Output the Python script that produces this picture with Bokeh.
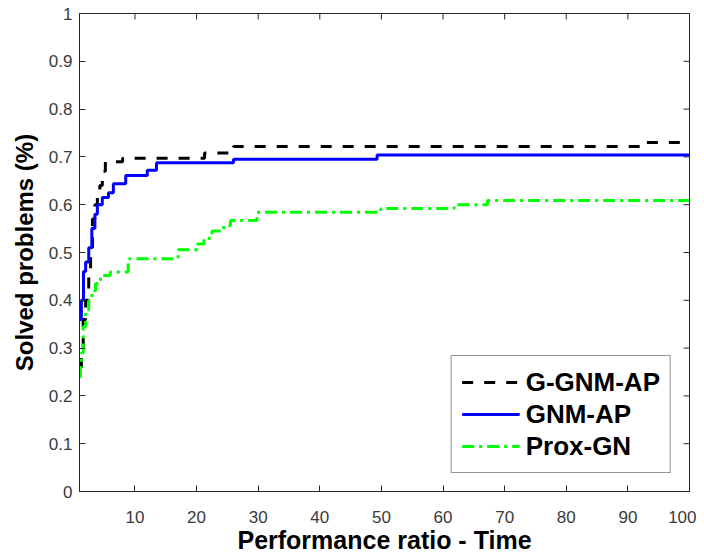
import math
from bokeh.plotting import figure
from bokeh.models import Range1d, FixedTicker, Legend, LegendItem
from bokeh.embed import file_html
from bokeh.resources import INLINE

# G-GNM-AP (black dashed)
ggnm_tau = [1, 1.3, 1.6, 2.0, 2.5, 2.8, 3.1, 3.5, 3.9, 4.3, 4.7, 5.2, 8.0, 21.3, 26.0, 92.3, 100]
ggnm_val = [0.26, 0.30, 0.36, 0.40, 0.45, 0.49, 0.57, 0.60, 0.62, 0.64, 0.67, 0.69, 0.697, 0.708, 0.722, 0.73, 0.73]

# GNM-AP (blue solid)
gnm_tau = [1, 1.3, 1.65, 2.0, 2.5, 3.0, 3.5, 3.9, 4.7, 5.7, 6.5, 8.5, 12.0, 13.5, 26.0, 49.3, 100]
gnm_val = [0.36, 0.40, 0.46, 0.48, 0.51, 0.55, 0.58, 0.60, 0.615, 0.625, 0.644, 0.661, 0.672, 0.688, 0.695, 0.704, 0.704]

# Prox-GN (green dash-dot)
prox_tau = [1, 1.15, 1.3, 1.6, 2.0, 2.5, 3.0, 3.6, 4.4, 6.0, 8.9, 17.0, 20.1, 21.2, 22.5, 24.4, 25.5, 29.8, 49.9, 61.8, 67.2, 100]
prox_val = [0.24, 0.26, 0.29, 0.345, 0.38, 0.40, 0.42, 0.435, 0.452, 0.459, 0.487, 0.506, 0.518, 0.530, 0.545, 0.556, 0.567, 0.584, 0.592, 0.600, 0.609, 0.609]

x_ticks = [10, 20, 30, 40, 50, 60, 70, 80, 90, 100]
y_ticks = [0, 0.1, 0.2, 0.3, 0.4, 0.5, 0.6, 0.7, 0.8, 0.9, 1.0]
x_min, x_max = 1, 100
y_min, y_max = 0, 1

FONT = "Liberation Sans"
AX = "#262626"

p = figure(frame_width=610, frame_height=478, output_backend="svg", toolbar_location=None,
           x_range=Range1d(x_min, x_max), y_range=Range1d(y_min, y_max),
           min_border_left=79, min_border_right=7, min_border_top=13, min_border_bottom=58)
p.background_fill_color = "white"
p.border_fill_color = "white"
p.grid.visible = False
p.outline_line_color = AX
p.outline_line_width = 1

p.xaxis.ticker = FixedTicker(ticks=x_ticks)
p.xaxis.axis_label = "Performance ratio - Time"
p.yaxis.ticker = FixedTicker(ticks=y_ticks)
p.yaxis.axis_label = "Solved problems (%)"
p.yaxis.major_label_overrides = {0: "0", 1: "1"}

for ax in list(p.xaxis) + list(p.yaxis):
    ax.axis_line_color = AX
    ax.major_tick_line_color = AX
    ax.major_tick_in = 6
    ax.major_tick_out = 0
    ax.minor_tick_line_color = None
    ax.major_label_text_font = FONT
    ax.major_label_text_font_size = "17px"
    ax.major_label_text_color = "#3a3a3a"
    ax.axis_label_text_font = FONT
    ax.axis_label_text_font_style = "bold"
    ax.axis_label_text_color = "black"
p.xaxis.major_label_standoff = 19
p.xaxis.axis_label_standoff = 0
p.xaxis.axis_label_text_font_size = "25px"
p.yaxis.major_label_standoff = 7
p.yaxis.axis_label_standoff = 8
p.yaxis.axis_label_text_font_size = "24px"

# inward box ticks along the top and right edges
p.ray(x=x_ticks, y=[y_max] * len(x_ticks), length=6, length_units="screen",
      angle=-math.pi / 2, line_color=AX, line_width=1)
p.ray(x=[x_max] * len(y_ticks), y=y_ticks, length=6, length_units="screen",
      angle=math.pi, line_color=AX, line_width=1)

r1 = p.step(ggnm_tau, ggnm_val, mode="after", line_color="black", line_width=3, line_dash="11 11")
r2 = p.step(gnm_tau, gnm_val, mode="after", line_color="#0000FF", line_width=3)
r3 = p.step(prox_tau, prox_val, mode="after", line_color="#00FF00", line_width=3, line_dash="12 5 3 5")

legend = Legend(items=[LegendItem(label="G-GNM-AP", renderers=[r1]),
                       LegendItem(label="GNM-AP", renderers=[r2]),
                       LegendItem(label="Prox-GN", renderers=[r3])],
                location="bottom_right")
legend.margin = 18
legend.padding = 10
legend.spacing = 0
legend.glyph_width = 58
legend.glyph_height = 32
legend.label_height = 32
legend.label_standoff = 6
legend.label_text_font = FONT
legend.label_text_font_style = "bold"
legend.label_text_font_size = "26px"
legend.label_text_color = "black"
legend.border_line_color = AX
legend.border_line_width = 1
legend.background_fill_alpha = 1
p.add_layout(legend, "center")

open("out.html", "w").write(file_html(p, INLINE))
